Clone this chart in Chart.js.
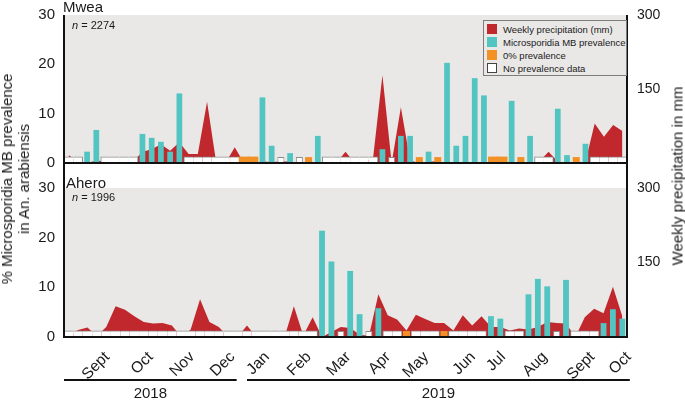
<!DOCTYPE html>
<html>
<head>
<meta charset="utf-8">
<script src="https://cdn.jsdelivr.net/npm/chart.js@4.4.1/dist/chart.umd.min.js"></script>
<style>
  body { margin: 0; background: #fff; font-family: "Liberation Sans", Arial, sans-serif; color: #1a1a1a; }
  #wrap { position: relative; width: 685px; height: 401px; overflow: hidden; }
  .pane { position: absolute; left: 0; width: 685px; }
  .site { position: absolute; font-size: 15px; line-height: 1; }
  .n { position: absolute; font-size: 11px; line-height: 1; }
  .ytitle { position: absolute; white-space: nowrap; text-align: center; font-size: 15px; line-height: 17px;
            transform: translate(-50%, -50%) rotate(-90deg); }
  #legend { position: absolute; left: 483px; top: 20px; width: 144px; height: 56px; box-sizing: border-box;
            border: 1px solid #7d7d7d; background: #e9e8e6; font-size: 9.5px; }
  #legend div { position: absolute; left: 3px; height: 11px; line-height: 11px; white-space: nowrap; }
  #legend span { display: inline-block; width: 10px; height: 10px; vertical-align: top; margin-right: 6px; box-sizing: border-box; }
</style>
</head>
<body>
<div id="wrap">
  <div class="pane" style="top:0;height:175px"><canvas id="mwea"></canvas></div>
  <div class="pane" style="top:163px;height:238px"><canvas id="ahero"></canvas></div>

  <div class="site" style="left:63px;top:-1px">Mwea</div>
  <div class="n" style="left:72px;top:20px"><i>n</i> = 2274</div>
  <div class="site" style="left:66px;top:175px">Ahero</div>
  <div class="n" style="left:72px;top:192px"><i>n</i> = 1996</div>

  <div class="ytitle" style="left:15px;top:179px">% Microsporidia MB prevalence<br>in An. arabiensis</div>
  <div class="ytitle" style="left:677px;top:176px">Weekly precipitation in mm</div>

  <div id="legend">
    <div style="top:3px"><span style="background:#c0282d"></span>Weekly precipitation (mm)</div>
    <div style="top:16px"><span style="background:#52c4c1"></span>Microsporidia MB prevalence</div>
    <div style="top:29px"><span style="background:#f29226"></span>0% prevalence</div>
    <div style="top:42px"><span style="background:#fff;border:1px solid #444"></span>No prevalence data</div>
  </div>
</div>

<script>
// weekly prevalence (%): null = no prevalence data, 0 = 0% prevalence
const mweaPrev = [
  null, null, 2.3, 6.7, null, null, null, null, 5.9, 5.1,
  4.3, 2.3, 14.1, null, null, null, null, null, null, 0,
  0, 13.3, 3.5, null, 2.0, null, 0, 5.5, null, null,
  null, null, null, null, 2.8, null, 5.5, 5.5, 0, 2.3,
  0, 20.3, 3.5, 5.5, 17.2, 13.7, 0, 0, 12.6, 0,
  5.5, null, null, 11.0, 1.6, 0, 3.9, null, null, null,
  null
];
// weekly precipitation (mm)
const mweaRain = [
  16, 2, 0, 5, 3, 0, 0, 3, 23, 28,
  38, 25, 42, 18, 18, 124, 0, 0, 32, 0,
  0, 3, 2, 3, 3, 0, 0, 0, 0, 0,
  23, 0, 0, 12, 178, 0, 113, 5, 0, 3,
  3, 0, 0, 0, 2, 0, 0, 2, 0, 0,
  0, 3, 23, 3, 0, 0, 3, 80, 53, 77,
  65
];

const aheroPrev = [
  null, null, null, null, null, null, null, null, null, null,
  null, null, null, null, null, null, null, null, null, null,
  null, null, null, null, null, null, null, 21.4, 15.2, null,
  13.3, 4.6, null, 5.8, null, null, 0, null, null, null,
  0, null, null, null, null, 4.2, 3.7, null, null, 8.6,
  11.7, 10.2, null, 11.5, null, null, null, 2.8, 5.6, 3.7
];
const aheroRain = [
  3, 14, 19, 2, 20, 62, 55, 42, 30, 27,
  28, 23, 0, 15, 76, 30, 20, 0, 0, 23,
  0, 0, 0, 0, 62, 3, 40, 0, 10, 20,
  18, 5, 2, 86, 44, 35, 13, 45, 36, 28,
  28, 13, 44, 23, 42, 20, 20, 13, 17, 15,
  20, 30, 28, 27, 0, 40, 57, 48, 101, 42
];

// month labels sit at these week positions on the Ahero week axis
const monthLabels = ['Sept', 'Oct', 'Nov', 'Dec', 'Jan', 'Feb', 'Mar', 'Apr', 'May', 'Jun', 'Jul', 'Aug', 'Sept', 'Oct'];
const monthWeeks  = [4.1, 8.75, 13.15, 17.45, 21.15, 25.6, 29.8, 34.05, 38.1, 43.1, 46.3, 50.75, 55.8, 59.7];
const yearLabels = ['2018', '2019'];
const yearFrom   = [-0.5, 19.0];
const yearTo     = [17.9, 59.8];

const prevTicks = [0, 10, 20, 30];
const rainTicks = [150, 300];

const RED = '#c0282d', CYAN = '#52c4c1', ORANGE = '#f29226', BG = '#e9e8e6', INK = '#1a1a1a';
const FONT = '"Liberation Sans", Arial, sans-serif';
const BOX = 1.2; // height of the 0% / no data markers on the % axis

// split marker weeks into runs (merged, full width) and isolated weeks
function markers(prev, test) {
  const run = [], single = [];
  prev.forEach((v, i) => {
    const on = test(v);
    const l = i > 0 && test(prev[i - 1]);
    const r = i < prev.length - 1 && test(prev[i + 1]);
    run.push(on && (l || r) ? BOX : null);
    single.push(on && !l && !r ? BOX : null);
  });
  return { run, single };
}

const runBorder = ctx => {
  const d = ctx.dataset.data, i = ctx.dataIndex;
  return { top: 1, bottom: 0, left: d[i - 1] == null ? 1 : 0, right: d[i + 1] == null ? 1 : 0 };
};

// grey plot background + black frame
const framePlugin = {
  id: 'frame',
  beforeDraw(chart, args, opts) {
    const { ctx, chartArea: a } = chart;
    ctx.save();
    ctx.fillStyle = BG;
    ctx.fillRect(a.left, a.top, a.width, a.height);
    ctx.restore();
  },
  afterDatasetsDraw(chart, args, opts) {
    const { ctx, chartArea: a } = chart;
    ctx.save();
    ctx.strokeStyle = '#111';
    ctx.lineWidth = 2;
    ctx.beginPath();
    ctx.moveTo(a.left, a.top - opts.extend);
    ctx.lineTo(a.left, a.bottom);
    ctx.lineTo(a.right, a.bottom);
    ctx.lineTo(a.right, a.top - opts.extend);
    ctx.stroke();
    ctx.restore();
  }
};

const yearPlugin = {
  id: 'years',
  afterDraw(chart) {
    const s = chart.scales.months;
    if (!s) return;
    const ctx = chart.ctx;
    ctx.save();
    ctx.strokeStyle = '#111';
    ctx.lineWidth = 2;
    ctx.fillStyle = INK;
    ctx.font = '15px ' + FONT;
    ctx.textAlign = 'center';
    ctx.textBaseline = 'middle';
    yearLabels.forEach((t, i) => {
      const x0 = s.getPixelForValue(yearFrom[i]);
      const x1 = s.getPixelForValue(yearTo[i]);
      ctx.beginPath();
      ctx.moveTo(x0, 217);
      ctx.lineTo(x1, 217);
      ctx.stroke();
      ctx.fillText(t, (x0 + x1) / 2, 231);
    });
    ctx.restore();
  }
};

function makeChart(id, prev, rain, withMonths) {
  const weeks = rain.map((_, i) => i + 1);
  const zero = markers(prev, v => v === 0);
  const none = markers(prev, v => v === null);
  const bar = { type: 'bar', yAxisID: 'yPrev', categoryPercentage: 1, grouped: false, borderSkipped: 'start' };

  const scales = {
    x: { type: 'category', display: false, offset: true },
    yPrev: {
      position: 'left', min: 0, max: 30,
      afterBuildTicks: s => { s.ticks = prevTicks.map(v => ({ value: v })); },
      ticks: { padding: 9, color: INK, font: { family: FONT, size: 15 } },
      grid: { display: false, drawTicks: false },
      border: { display: false },
      afterFit: s => { s.width = 64; s.paddingTop = 0; s.paddingBottom = 0; }
    },
    yRain: {
      position: 'right', min: 0, max: 300,
      afterBuildTicks: s => { s.ticks = rainTicks.map(v => ({ value: v })); },
      ticks: { padding: 10, color: INK, font: { family: FONT, size: 14 } },
      grid: { display: false, drawTicks: false },
      border: { display: false },
      afterFit: s => { s.width = 58; s.paddingTop = 0; s.paddingBottom = 0; }
    }
  };
  if (withMonths) {
    scales.months = {
      type: 'linear', position: 'bottom', offset: false, min: -0.5, max: rain.length - 0.5,
      afterBuildTicks: s => { s.ticks = monthWeeks.map(v => ({ value: v })); },
      ticks: {
        autoSkip: false, minRotation: 45, maxRotation: 45, padding: 11, color: INK,
        font: { family: FONT, size: 15.5 },
        callback: (v, i) => monthLabels[i]
      },
      grid: { display: false, drawTicks: false },
      border: { display: false },
      afterFit: s => { s.height = 64; s.paddingLeft = 0; s.paddingRight = 0; }
    };
  }

  return new Chart(document.getElementById(id), {
    type: 'bar',
    data: {
      labels: weeks,
      datasets: [
        { type: 'line', label: 'Weekly precipitation (mm)', data: rain, yAxisID: 'yRain',
          fill: 'origin', backgroundColor: RED, borderColor: RED, borderWidth: 0,
          pointRadius: 0, tension: 0, order: 5 },
        { ...bar, label: 'Microsporidia MB prevalence', data: prev.map(v => v > 0 ? v : null),
          backgroundColor: CYAN, barPercentage: 0.62, order: 1 },
        { ...bar, label: '0% prevalence', data: zero.run, backgroundColor: ORANGE, barPercentage: 1,
          inflateAmount: 0.5, order: 2 },
        { ...bar, label: '0% prevalence', data: zero.single, backgroundColor: ORANGE, barPercentage: 0.76, order: 2 },
        { ...bar, label: 'No prevalence data', data: none.run, backgroundColor: '#fff', borderColor: '#8a8a8a',
          borderWidth: runBorder, barPercentage: 1, inflateAmount: 0.5, order: 2 },
        { ...bar, label: 'No prevalence data', data: none.single, backgroundColor: '#fff', borderColor: '#8a8a8a',
          borderWidth: { top: 1, bottom: 0, left: 1, right: 1 }, barPercentage: 0.76, order: 2 }
      ]
    },
    options: {
      responsive: true,
      maintainAspectRatio: false,
      animation: false,
      layout: { padding: withMonths ? { top: 25, bottom: 0, left: 0, right: 0 } : { top: 15, bottom: 12, left: 0, right: 0 } },
      plugins: {
        legend: { display: false },
        tooltip: { enabled: false },
        frame: { extend: withMonths ? 25 : 0 }
      },
      scales
    },
    plugins: [framePlugin, yearPlugin]
  });
}

makeChart('mwea', mweaPrev, mweaRain, false);
makeChart('ahero', aheroPrev, aheroRain, true);
</script>
</body>
</html>
